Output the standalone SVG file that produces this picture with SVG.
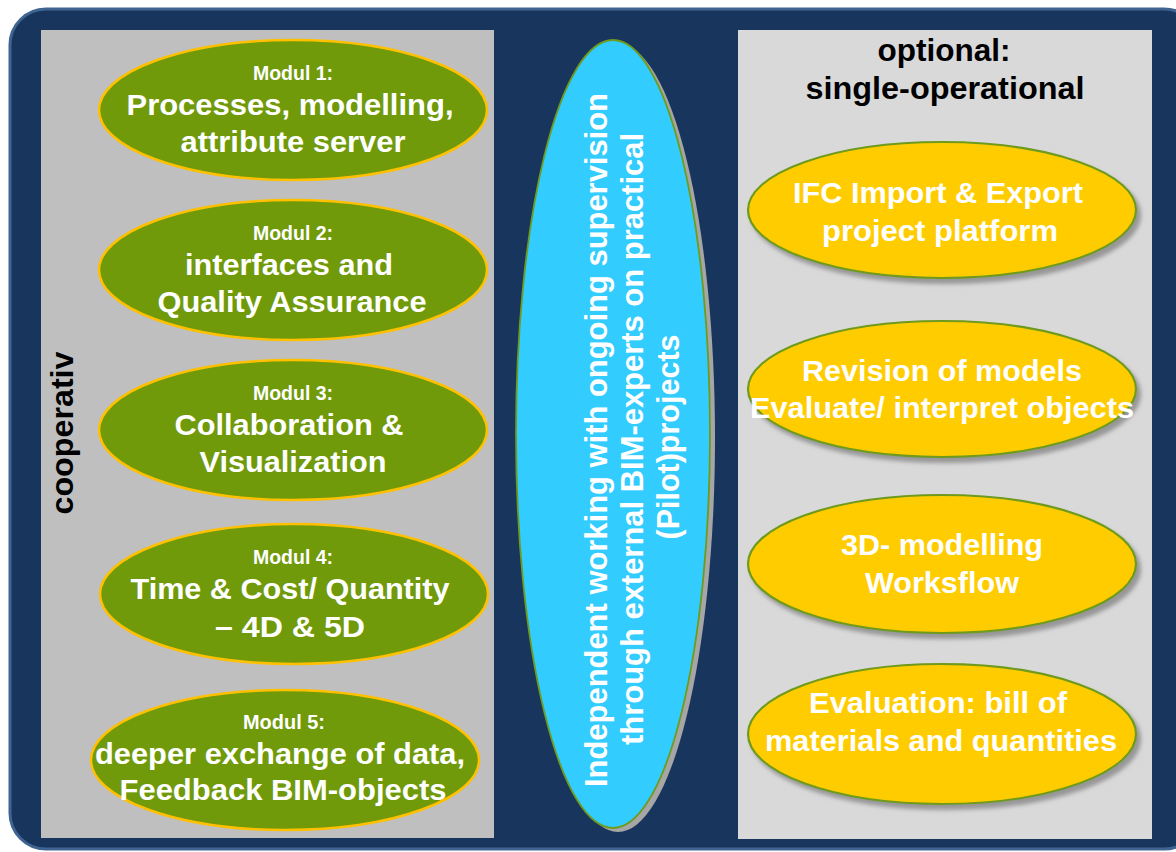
<svg xmlns="http://www.w3.org/2000/svg" width="1176" height="852" viewBox="0 0 1176 852">
<style>
.t{font-family:"Liberation Sans",Arial,sans-serif;font-weight:bold;text-anchor:middle}
.w{fill:#ffffff}
.k{fill:#000000}
.m{font-size:19.5px}
.b{font-size:30px}
.g{fill:#709a0a;stroke:#ffc000;stroke-width:2.5}
.y{fill:#ffcc00;stroke:#6f9a1c;stroke-width:2.2}
</style>
<defs>
<filter id="sh" x="-10%" y="-10%" width="125%" height="130%">
<feDropShadow dx="4" dy="5" stdDeviation="2.2" flood-color="#7a7a7a" flood-opacity="0.7"/>
</filter>
</defs>
<rect x="0" y="0" width="1176" height="852" fill="#ffffff"/>
<g id="frame">
<rect x="10" y="9" width="1190" height="840" rx="36" fill="#18365d" stroke="#3f6491" stroke-width="3"/>
<rect x="41" y="30" width="453" height="808" fill="#bfbfbf"/>
<rect x="738" y="30" width="414" height="809" fill="#d9d9d9"/>
</g>
<g id="label-cooperativ">
<text class="t k" font-size="32" transform="translate(73,433) rotate(-90)" textLength="163" lengthAdjust="spacingAndGlyphs">cooperativ</text>
</g>
<g id="label-optional">
<text class="t k" x="944" y="61" font-size="32" textLength="133" lengthAdjust="spacingAndGlyphs">optional:</text>
<text class="t k" x="945" y="99" font-size="32" textLength="279" lengthAdjust="spacingAndGlyphs">single-operational</text>
</g>
<g id="modul1">
<ellipse class="g" cx="293" cy="110" rx="194" ry="70"/>
<text class="t w m" x="293" y="80" textLength="80" lengthAdjust="spacingAndGlyphs">Modul 1:</text>
<text class="t w b" x="290" y="115" textLength="327" lengthAdjust="spacingAndGlyphs">Processes, modelling,</text>
<text class="t w b" x="293" y="152" textLength="225" lengthAdjust="spacingAndGlyphs">attribute server</text>
</g>
<g id="modul2">
<ellipse class="g" cx="293" cy="270" rx="194" ry="70"/>
<text class="t w m" x="293" y="240" textLength="80" lengthAdjust="spacingAndGlyphs">Modul 2:</text>
<text class="t w b" x="289" y="275" textLength="208" lengthAdjust="spacingAndGlyphs">interfaces and</text>
<text class="t w b" x="292" y="312" textLength="269" lengthAdjust="spacingAndGlyphs">Quality Assurance</text>
</g>
<g id="modul3">
<ellipse class="g" cx="293" cy="430" rx="194" ry="70"/>
<text class="t w m" x="293" y="400" textLength="80" lengthAdjust="spacingAndGlyphs">Modul 3:</text>
<text class="t w b" x="289" y="435" textLength="229" lengthAdjust="spacingAndGlyphs">Collaboration &amp;</text>
<text class="t w b" x="293" y="472" textLength="187" lengthAdjust="spacingAndGlyphs">Visualization</text>
</g>
<g id="modul4">
<ellipse class="g" cx="294" cy="594" rx="194" ry="70"/>
<text class="t w m" x="293" y="564" textLength="80" lengthAdjust="spacingAndGlyphs">Modul 4:</text>
<text class="t w b" x="290" y="599" textLength="319" lengthAdjust="spacingAndGlyphs">Time &amp; Cost/ Quantity</text>
<text class="t w b" x="290" y="637" textLength="150" lengthAdjust="spacingAndGlyphs">– 4D &amp; 5D</text>
</g>
<g id="modul5">
<ellipse class="g" cx="285" cy="760" rx="194" ry="70"/>
<text class="t w m" x="284" y="729" textLength="82" lengthAdjust="spacingAndGlyphs">Modul 5:</text>
<text class="t w b" x="280" y="764" textLength="370" lengthAdjust="spacingAndGlyphs">deeper exchange of data,</text>
<text class="t w b" x="283" y="800" textLength="327" lengthAdjust="spacingAndGlyphs">Feedback BIM-objects</text>
</g>
<g id="center">
<ellipse cx="618" cy="438" rx="97" ry="394" fill="#a6a6a6"/>
<ellipse cx="613" cy="434" rx="97" ry="394" fill="#33ccff" stroke="#6f9a1c" stroke-width="1.8"/>
<text class="t w" font-size="30.5" transform="translate(607,440) rotate(-90)" textLength="694" lengthAdjust="spacingAndGlyphs">Independent working with ongoing supervision</text>
<text class="t w" font-size="30.5" transform="translate(643,439) rotate(-90)" textLength="612" lengthAdjust="spacingAndGlyphs">through external BIM-experts on practical</text>
<text class="t w" font-size="30.5" transform="translate(679,437) rotate(-90)" textLength="205" lengthAdjust="spacingAndGlyphs">(Pilot)projects</text>
</g>
<g id="ifc">
<ellipse class="y" cx="942" cy="210" rx="194" ry="68" filter="url(#sh)"/>
<text class="t w b" x="938" y="203" textLength="290" lengthAdjust="spacingAndGlyphs">IFC Import &amp; Export</text>
<text class="t w b" x="940" y="241" textLength="236" lengthAdjust="spacingAndGlyphs">project platform</text>
</g>
<g id="revision">
<ellipse class="y" cx="942" cy="389" rx="194" ry="68" filter="url(#sh)"/>
<text class="t w b" x="942" y="381" textLength="280" lengthAdjust="spacingAndGlyphs">Revision of models</text>
<text class="t w b" x="942" y="418" textLength="384" lengthAdjust="spacingAndGlyphs">Evaluate/ interpret objects</text>
</g>
<g id="modelling3d">
<ellipse class="y" cx="942" cy="564" rx="194" ry="69" filter="url(#sh)"/>
<text class="t w b" x="942" y="555" textLength="202" lengthAdjust="spacingAndGlyphs">3D- modelling</text>
<text class="t w b" x="942" y="593" textLength="154" lengthAdjust="spacingAndGlyphs">Worksflow</text>
</g>
<g id="evaluation">
<ellipse class="y" cx="942" cy="734" rx="194" ry="70" filter="url(#sh)"/>
<text class="t w b" x="938" y="713" textLength="258" lengthAdjust="spacingAndGlyphs">Evaluation: bill of</text>
<text class="t w b" x="941" y="751" textLength="352" lengthAdjust="spacingAndGlyphs">materials and quantities</text>
</g>
<g id="connectors"></g>
</svg>
